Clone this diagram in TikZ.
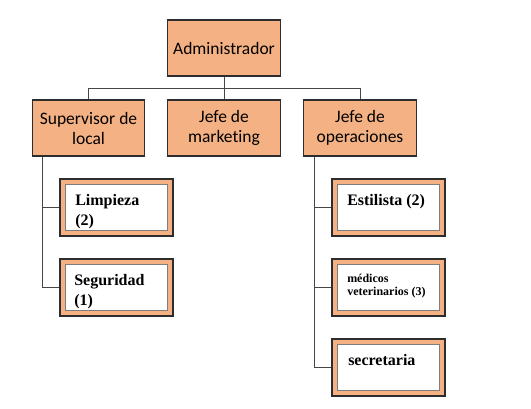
\documentclass[tikz,border=0pt]{standalone}
\usepackage{fontspec}
\newfontfamily\calibrifont[Ligatures=NoCommon]{Carlito}
\newfontfamily\timesfont{Liberation Serif}
\definecolor{boxorange}{RGB}{244, 177, 131}
\definecolor{boxline}{RGB}{45, 45, 45}
\definecolor{innerline}{RGB}{125, 125, 125}
\definecolor{linkgray}{RGB}{70, 70, 70}
\usetikzlibrary{positioning, calc}

\begin{document}
\begin{tikzpicture}[x=1pt, y=-1pt,
  rolebox/.style={draw=boxline, line width=1.1pt, fill=boxorange, minimum width=112.5pt, minimum height=56pt, align=center, inner sep=2pt, font=\calibrifont\fontsize{17.5}{20}\selectfont},
  staffbox/.style={draw=boxline, line width=1.4pt, fill=boxorange, minimum width=113pt, minimum height=57pt, inner sep=0pt},
  staffinner/.style={draw=innerline, line width=0.9pt, fill=white, minimum width=102pt, minimum height=46pt, inner sep=0pt},
  stafftext/.style={anchor=north west, inner sep=0pt, align=left, font=\timesfont\bfseries\fontsize{16}{20}\selectfont},
  link/.style={draw=linkgray, line width=0.9pt}]
  \useasboundingbox[fill=white] (0,0) rectangle (531,409);

  % Top levels
  \node[rolebox] (admin) at (224, 48) {Administrador};
  \node[rolebox] (sup) at (88.5, 128) {Supervisor de\\local};
  \node[rolebox] (mkt) at (224, 128) {Jefe de\\marketing};
  \node[rolebox] (ops) at (360, 128) {Jefe de\\operaciones};

  % Staff cards
  \node[staffbox] (limp) at (116.5, 207.5) {};
  \node[staffinner] (limpin) at (limp.center) {};
  \node[stafftext] (limptxt) at ([shift={(10,10.5)}]limpin.north west) {Limpieza\\(2)};

  \node[staffbox] (segur) at (116.5, 287.5) {};
  \node[staffinner] (segurin) at (segur.center) {};
  \node[stafftext] (segurtxt) at ([shift={(9,10.5)}]segurin.north west) {Seguridad\\(1)};

  \node[staffbox] (estil) at (388.5, 207.5) {};
  \node[staffinner] (estilin) at (estil.center) {};
  \node[stafftext] (estiltxt) at ([shift={(10,10.5)}]estilin.north west) {Estilista (2)};

  \node[staffbox] (medic) at (388.5, 287.5) {};
  \node[staffinner] (medicin) at (medic.center) {};
  \node[stafftext, font=\timesfont\bfseries\fontsize{12}{13}\selectfont] (medictxt) at ([shift={(10,9.5)}]medicin.north west) {médicos\\veterinarios (3)};

  \node[staffbox] (secre) at (388.5, 367.5) {};
  \node[staffinner] (secrein) at (secre.center) {};
  \node[stafftext] (secretxt) at ([shift={(11,10.5)}]secrein.north west) {secretaria};

  % Connectors
  \draw[link] (admin.south) -- ++(0,11.5) coordinate (hub);
  \draw[link] (sup.north) |- (hub) -| (ops.north);
  \draw[link] (hub) -- (mkt.north);

  \coordinate (suptrunk) at ([xshift=11]sup.south west);
  \draw[link] (suptrunk) |- (segur.west);
  \draw[link] (suptrunk |- limp.west) -- (limp.west);

  \coordinate (opstrunk) at ([xshift=11]ops.south west);
  \draw[link] (opstrunk) |- (secre.west);
  \draw[link] (opstrunk |- estil.west) -- (estil.west);
  \draw[link] (opstrunk |- medic.west) -- (medic.west);
\end{tikzpicture}
\end{document}
